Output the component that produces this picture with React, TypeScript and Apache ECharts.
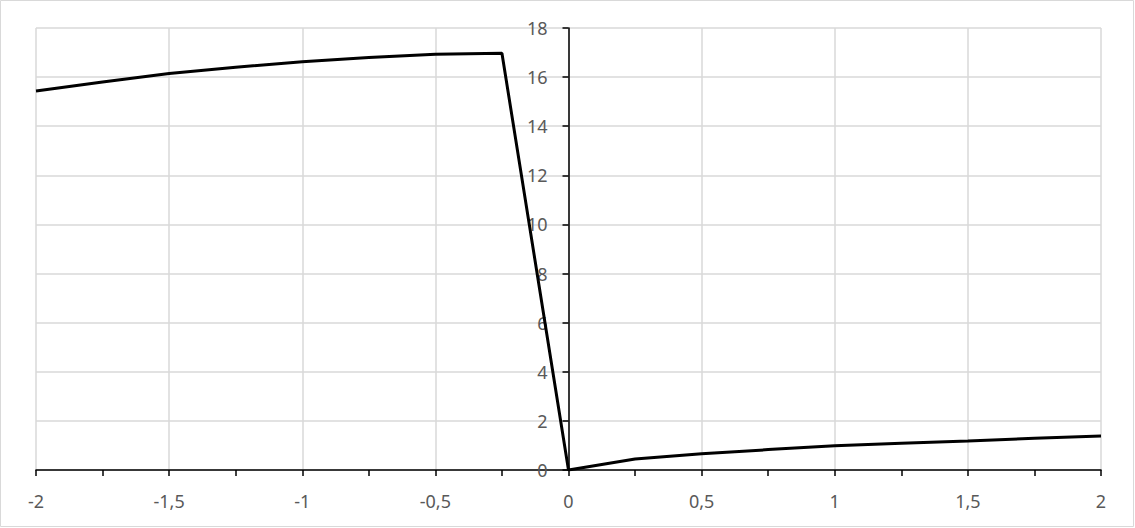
import React, { useEffect, useRef } from "react";
import * as echarts from "echarts";

const xValues = [-2, -1.75, -1.5, -1.25, -1, -0.75, -0.5, -0.25, 0, 0.25, 0.5, 0.75, 1, 1.25, 1.5, 1.75, 2];
const yValues = [15.43, 15.8, 16.15, 16.4, 16.63, 16.8, 16.93, 16.97, 0, 0.45, 0.66, 0.83, 0.99, 1.09, 1.18, 1.29, 1.38];

const fmt = (v: number) => String(v).replace(".", ",");

export default function App() {
  const ref = useRef<HTMLDivElement>(null);
  useEffect(() => {
    const chart = echarts.init(ref.current!, undefined, { renderer: "svg" });
    const font = "'Noto Sans', sans-serif";
    const left = 36;
    const right = 34;
    const width = 1135;
    const half = (width - left - right) / 2;
    chart.setOption({
      animation: false,
      backgroundColor: "#ffffff",
      graphic: [
        {
          type: "rect",
          shape: { x: 0.5, y: 0.5, width: 1133, height: 526 },
          style: { fill: "none", stroke: "#d9d9d9", lineWidth: 1 },
          silent: true,
        },
      ],
      grid: { left, right, top: 28, bottom: 58, outerBoundsMode: "none", containLabel: false },
      xAxis: {
        type: "value",
        min: -2,
        max: 2,
        interval: 0.5,
        axisLine: { onZero: true, lineStyle: { color: "#000", width: 1.5 } },
        axisTick: { show: true, length: 6, lineStyle: { color: "#000", width: 1.5 } },
        minorTick: { show: true, splitNumber: 2, length: 6, lineStyle: { color: "#000", width: 1.5 } },
        splitLine: { show: true, lineStyle: { color: "#d9d9d9", width: 1.5 } },
        axisLabel: { formatter: (v: number) => fmt(v), color: "#595959", fontSize: 18, fontFamily: font, margin: 22 },
      },
      yAxis: {
        type: "value",
        min: 0,
        max: 18,
        interval: 2,
        position: "left",
        offset: -half,
        axisLine: { show: true, onZero: false, lineStyle: { color: "#000", width: 1.5 } },
        axisTick: { show: true, inside: false, length: 6, lineStyle: { color: "#000", width: 1.5 } },
        splitLine: { show: true, lineStyle: { color: "#d9d9d9", width: 1.5 } },
        axisLabel: { formatter: (v: number) => fmt(v), color: "#595959", fontSize: 18, fontFamily: font, margin: 21 },
      },
      series: [
        {
          type: "line",
          data: xValues.map((x, i) => [x, yValues[i]]),
          showSymbol: false,
          symbol: "none",
          lineStyle: { color: "#000", width: 3 },
        },
      ],
    });
    return () => chart.dispose();
  }, []);
  return <div ref={ref} style={{ position: "absolute", left: 0, top: 0, width: 1135, height: 528 }} />;
}
